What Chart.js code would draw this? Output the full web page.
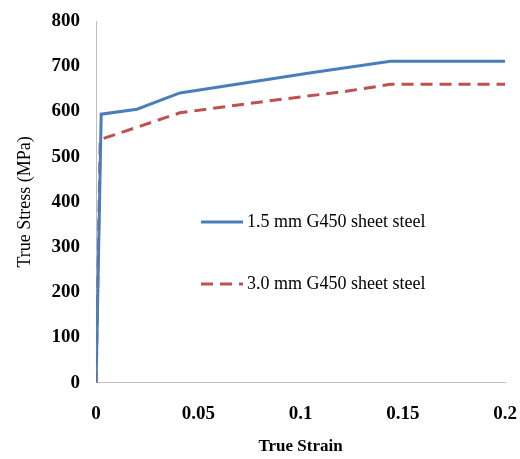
<!DOCTYPE html>
<html lang="en">
<head>
    <meta charset="UTF-8">
    <title>True stress - true strain</title>
    <script src="https://cdn.jsdelivr.net/npm/chart.js@4.4.1/dist/chart.umd.min.js"></script>
    <style>
        html, body { margin: 0; padding: 0; background: #fff; }
        #wrap { width: 520px; height: 459px; position: relative; }
    </style>
</head>
<body>
<div id="wrap"><canvas id="chart01"></canvas></div>

<script>
    // data
    var seriesNames = ["1.5 mm G450 sheet steel", "3.0 mm G450 sheet steel"];
    var strain15 = [0, 0.0025, 0.02, 0.041, 0.106, 0.144, 0.2];
    var stress15 = [0, 594, 605, 641, 686, 711, 711];
    var strain30 = [0, 0.002, 0.012, 0.041, 0.084, 0.123, 0.144, 0.2];
    var stress30 = [0, 538, 553, 597, 623, 645, 660, 660];
    var xTicks = [0, 0.05, 0.1, 0.15, 0.2];
    var yTicks = [0, 100, 200, 300, 400, 500, 600, 700, 800];

    function toPoints(xs, ys) {
        var pts = [];
        for (var i = 0; i < xs.length; i++) pts.push({x: xs[i], y: ys[i]});
        return pts;
    }

    // legend drawn inside plot area
    var insideLegend = {
        id: 'insideLegend',
        afterDraw: function (chart) {
            var ctx = chart.ctx;
            var rows = [
                {y: 222, ds: chart.data.datasets[0]},
                {y: 284, ds: chart.data.datasets[1]}
            ];
            ctx.save();
            rows.forEach(function (r) {
                ctx.beginPath();
                ctx.strokeStyle = r.ds.borderColor;
                ctx.lineWidth = 3;
                ctx.setLineDash(r.ds.borderDash || []);
                ctx.moveTo(201, r.y);
                ctx.lineTo(243, r.y);
                ctx.stroke();
                ctx.setLineDash([]);
                ctx.fillStyle = '#000';
                ctx.font = '18px "Liberation Serif", "Times New Roman", serif';
                ctx.textBaseline = 'middle';
                ctx.textAlign = 'left';
                ctx.fillText(r.ds.label, 247, r.y);
            });
            ctx.restore();
        }
    };

    var tickFont = {family: '"Liberation Serif", "Times New Roman", serif', size: 19, weight: 'bold'};

    new Chart(document.getElementById('chart01'), {
        type: 'scatter',
        data: {
            datasets: [
                {
                    label: seriesNames[0],
                    data: toPoints(strain15, stress15),
                    showLine: true,
                    borderColor: '#4a7ebb',
                    borderWidth: 3,
                    pointRadius: 0,
                    tension: 0
                },
                {
                    label: seriesNames[1],
                    data: toPoints(strain30, stress30),
                    showLine: true,
                    borderColor: '#c0504d',
                    borderWidth: 3,
                    borderDash: [12, 7],
                    pointRadius: 0,
                    tension: 0
                }
            ]
        },
        options: {
            responsive: true,
            maintainAspectRatio: false,
            animation: false,
            layout: {padding: {top: 21, right: 0, left: 14, bottom: 2}},
            plugins: {legend: {display: false}, tooltip: {enabled: false}},
            scales: {
                x: {
                    type: 'linear',
                    min: 0, max: 0.2,
                    afterBuildTicks: function (axis) {
                        axis.ticks = xTicks.map(function (v) { return {value: v}; });
                    },
                    afterFit: function (axis) {
                        axis.paddingRight = 15;
                    },
                    grid: {display: false, drawTicks: false},
                    border: {color: '#bfbfbf', width: 1},
                    ticks: {color: '#000', font: tickFont, padding: 20, maxRotation: 0,
                        callback: function (v) { return String(v); }},
                    title: {display: true, text: 'True Strain', color: '#000',
                        font: {family: tickFont.family, size: 17, weight: 'bold'}, padding: {top: -9, bottom: 0}}
                },
                y: {
                    min: 0, max: 800,
                    afterBuildTicks: function (axis) {
                        axis.ticks = yTicks.map(function (v) { return {value: v}; });
                    },
                    afterFit: function (axis) {
                        axis.paddingTop = 12;
                    },
                    grid: {display: false, drawTicks: false},
                    border: {color: '#bfbfbf', width: 1},
                    ticks: {color: '#000', font: tickFont, padding: 16},
                    title: {display: true, text: 'True Stress (MPa)', color: '#000',
                        font: {family: tickFont.family, size: 18, weight: 'normal'}, padding: {top: 0, bottom: 0}}
                }
            }
        },
        plugins: [insideLegend]
    });
</script>
</body>
</html>
